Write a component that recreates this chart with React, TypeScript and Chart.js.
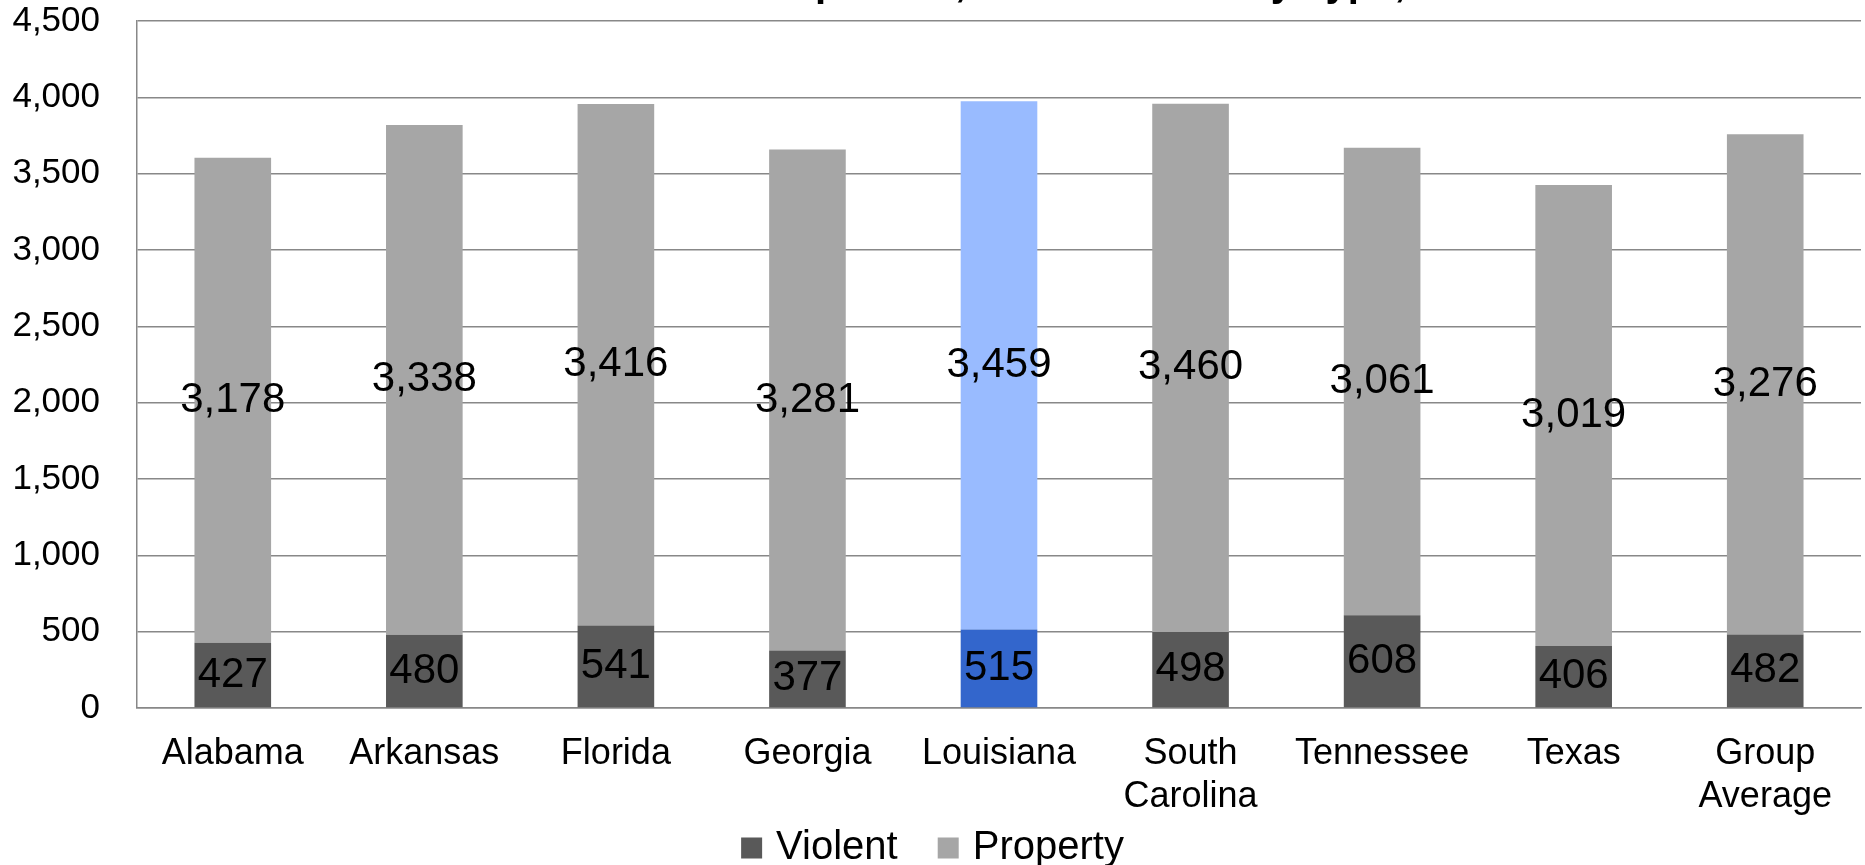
import React, { useEffect, useRef } from "react";
import { Chart, registerables } from "chart.js";

Chart.register(...registerables);

const categories: (string | string[])[] = [
  "Alabama",
  "Arkansas",
  "Florida",
  "Georgia",
  "Louisiana",
  ["South", "Carolina"],
  "Tennessee",
  "Texas",
  ["Group", "Average"],
];
const violent = [427, 480, 541, 377, 515, 498, 608, 406, 482];
const property = [3178, 3338, 3416, 3281, 3459, 3460, 3061, 3019, 3276];
const yTicksMax = 4500;
const yTickStep = 500;
const titleText = "Crimes per 100,000 Residents by Type, 2010";
const highlight = "Louisiana";

const FONT = "'Liberation Sans', Arial, Helvetica, sans-serif";
const VIOLENT_GRAY = "#595959";
const PROPERTY_GRAY = "#A6A6A6";
const VIOLENT_HI = "#3366CC";
const PROPERTY_HI = "#99BBFF";

const fmt = (v: number) => v.toLocaleString("en-US");

const colorsFor = (normal: string, hi: string) =>
  categories.map((c) => (c === highlight ? hi : normal));

const labelsPlugin = {
  id: "segLabels",
  afterDatasetsDraw(chart: any) {
    const ctx = chart.ctx;
    ctx.save();
    ctx.font = `42px ${FONT}`;
    ctx.fillStyle = "#000";
    ctx.textAlign = "center";
    ctx.textBaseline = "middle";
    chart.data.datasets.forEach((ds: any, di: number) => {
      const meta = chart.getDatasetMeta(di);
      meta.data.forEach((el: any, i: number) => {
        const cy = (el.y + el.base) / 2;
        ctx.fillText(fmt(ds.data[i]), el.x, cy);
      });
    });
    ctx.restore();
  },
};

const titleAndLegendPlugin = {
  id: "titleLegend",
  afterDraw(chart: any) {
    const ctx = chart.ctx;
    ctx.save();
    // title (clipped at top in the reference)
    ctx.font = `bold 40px ${FONT}`;
    ctx.fillStyle = "#000";
    ctx.textAlign = "left";
    ctx.textBaseline = "alphabetic";
    const preW = ctx.measureText("Crimes ").width;
    ctx.fillText(titleText, 815 - preW, -4);

    // legend
    ctx.font = `40px ${FONT}`;
    ctx.textBaseline = "middle";
    const box = 21;
    const gap = 14;
    const itemGap = 40;
    const items = chart.data.datasets.map((ds: any) => ({
      text: ds.label,
      color: ds.legendColor,
      w: ctx.measureText(ds.label).width,
    }));
    let total = 0;
    items.forEach((it: any, i: number) => {
      total += box + gap + it.w + (i > 0 ? itemGap : 0);
    });
    let x = chart.width / 2 - total / 2;
    const cy = 848;
    items.forEach((it: any) => {
      ctx.fillStyle = it.color;
      ctx.fillRect(x, cy - box / 2, box, box);
      ctx.fillStyle = "#000";
      ctx.fillText(it.text, x + box + gap, cy);
      x += box + gap + it.w + itemGap;
    });
    ctx.restore();
  },
};

export default function App() {
  const ref = useRef<HTMLCanvasElement | null>(null);
  useEffect(() => {
    if (!ref.current) return;
    const chart = new Chart(ref.current, {
      type: "bar",
      data: {
        labels: categories as any,
        datasets: [
          {
            label: "Violent",
            data: violent,
            backgroundColor: colorsFor(VIOLENT_GRAY, VIOLENT_HI),
            legendColor: VIOLENT_GRAY,
          } as any,
          {
            label: "Property",
            data: property,
            backgroundColor: colorsFor(PROPERTY_GRAY, PROPERTY_HI),
            legendColor: PROPERTY_GRAY,
          } as any,
        ],
      },
      options: {
        animation: false,
        responsive: true,
        maintainAspectRatio: false,
        layout: { padding: { top: 0, right: 4, bottom: 44, left: 0 } },
        datasets: {
          bar: { categoryPercentage: 1, barPercentage: 0.4 },
        },
        plugins: {
          legend: { display: false },
          title: { display: false },
          tooltip: { enabled: false },
        },
        scales: {
          x: {
            stacked: true,
            grid: { display: false, drawTicks: false },
            border: { display: true, color: "#888888", width: 1.5 },
            ticks: {
              color: "#000",
              font: { family: FONT, size: 36 },
              padding: 24,
              maxRotation: 0,
              autoSkip: false,
            },
            afterFit: (s: any) => {
              s.height = 113;
            },
          },
          y: {
            stacked: true,
            min: 0,
            max: yTicksMax,
            ticks: {
              stepSize: yTickStep,
              color: "#000",
              font: { family: FONT, size: 35 },
              padding: 37,
              callback: (v: any) => fmt(Number(v)),
            },
            grid: { color: "#888888", lineWidth: 1.5, drawTicks: false },
            border: { display: true, color: "#888888", width: 1.5 },
            afterFit: (s: any) => {
              s.width = 137;
              s.paddingTop = 21;
              s.paddingBottom = 0;
            },
          },
        },
      },
      plugins: [labelsPlugin, titleAndLegendPlugin],
    });
    return () => chart.destroy();
  }, []);
  return (
    <div style={{ position: "absolute", left: 0, top: 0, width: 1865, height: 865 }}>
      <canvas ref={ref} />
    </div>
  );
}
